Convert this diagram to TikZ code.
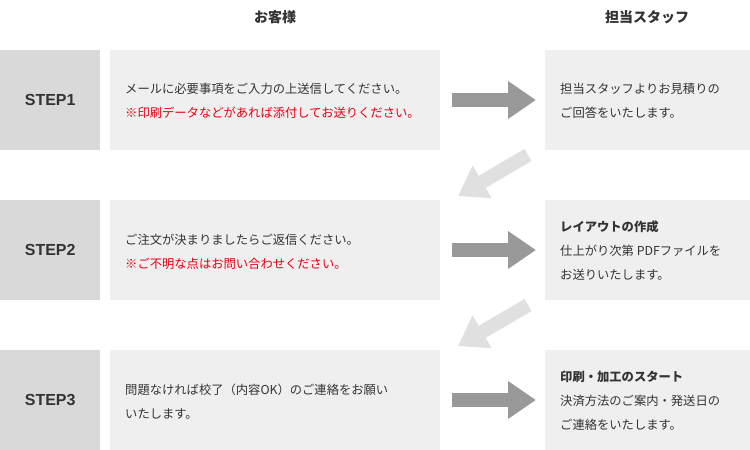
\documentclass[tikz,border=0pt]{standalone}
\usepackage{fontspec}
\setmainfont{Noto Sans CJK JP}
\newfontfamily\latinsans{Liberation Sans}
\usetikzlibrary{arrows.meta}
\definecolor{stepg}{HTML}{D9D9D9}
\definecolor{boxg}{HTML}{EFEFEF}
\definecolor{arrd}{HTML}{999999}
\definecolor{arrl}{HTML}{E0E0E0}
\definecolor{redt}{HTML}{E60012}
\definecolor{txt}{HTML}{333333}
\begin{document}
\begin{tikzpicture}[x=1pt,y=-1pt,
  stepbox/.style={fill=stepg,minimum width=100pt,minimum height=100pt,inner sep=0pt,anchor=north west,font=\latinsans\bfseries\fontsize{16}{18}\selectfont,text=txt},
  custbox/.style={fill=boxg,minimum width=330pt,minimum height=100pt,inner sep=0pt,anchor=north west},
  staffbox/.style={fill=boxg,minimum width=205pt,minimum height=100pt,inner sep=0pt,anchor=north west},
  tx/.style={anchor=west,align=left,font=\fontsize{12.3}{24}\selectfont,text=txt,inner sep=0pt},
  hd/.style={font=\bfseries\fontsize{14}{16}\selectfont,text=txt},
  rarr/.style={draw=arrd,line width=14pt,-{Triangle[width=36pt,length=28pt]}},
  darr/.style={draw=arrl,line width=14pt,-{Triangle[width=36pt,length=28pt]}}]
\useasboundingbox (0,0) rectangle (750,450);
\node[hd] (h1) at (275,17) {お客様};
\node[hd] (h2) at (647,17) {担当スタッフ};
% rows
\node[stepbox] (s1) at (0,50) {STEP1};
\node[stepbox] (s2) at (0,200) {STEP2};
\node[stepbox] (s3) at (0,350) {STEP3};
\node[custbox] (c1) at (110,50) {};
\node[custbox] (c2) at (110,200) {};
\node[custbox] (c3) at (110,350) {};
\node[staffbox] (t1) at (545,50) {};
\node[staffbox] (t2) at (545,200) {};
\node[staffbox] (t3) at (545,350) {};
\node[tx] (ct1) at (125,101) {メールに必要事項をご入力の上送信してください。\\\textcolor{redt}{※印刷データなどがあれば添付してお送りください。}};
\node[tx] (ct2) at (125,252) {ご注文が決まりましたらご返信ください。\\\textcolor{redt}{※ご不明な点はお問い合わせください。}};
\node[tx] (ct3) at (125,402) {問題なければ校了（内容OK）のご連絡をお願い\\いたします。};
\node[tx] (tt1) at (560,101) {担当スタッフよりお見積りの\\ご回答をいたします。};
\node[tx] (tt2) at (560,251) {\textbf{レイアウトの作成}\\仕上がり次第 PDFファイルを\\お送りいたします。};
\node[tx] (tt3) at (560,401) {\textbf{印刷・加工のスタート}\\決済方法のご案内・発送日の\\ご連絡をいたします。};
% arrows
\foreach \y/\n in {100/1,250/2,400/3}{
  \coordinate (ra\n) at (452,\y);
  \coordinate (rb\n) at (536,\y);
  \draw[rarr] (ra\n) -- (rb\n);
}
\coordinate (da1) at (528,155);
\coordinate (db1) at (458,196);
\coordinate (da2) at (528,305);
\coordinate (db2) at (458,346);
\draw[darr] (da1) -- (db1);
\draw[darr] (da2) -- (db2);
\end{tikzpicture}
\end{document}
